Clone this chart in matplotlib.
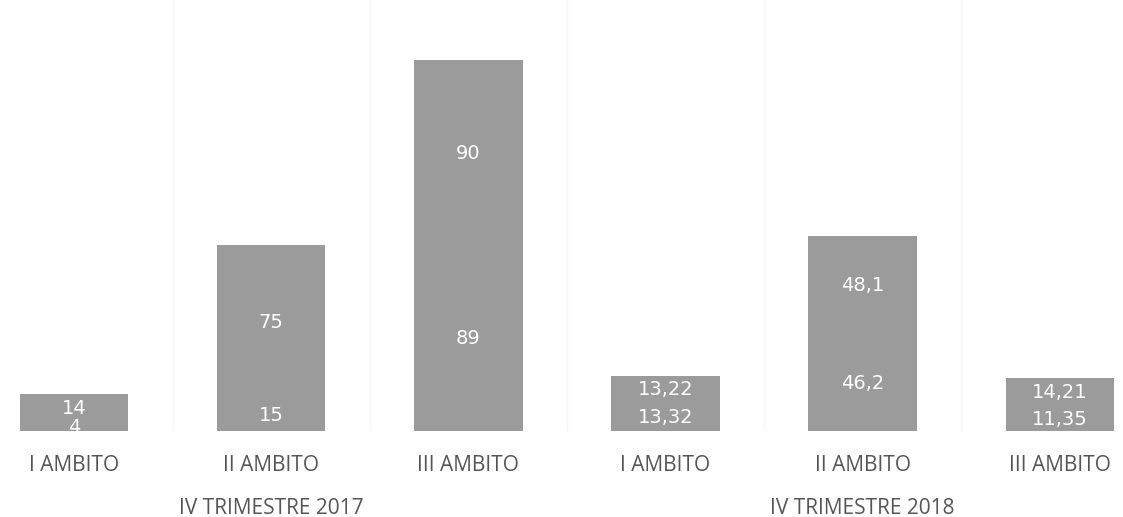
import matplotlib
matplotlib.use("Agg")
import matplotlib.pyplot as plt
import numpy as np

categories = ["I AMBITO", "II AMBITO", "III AMBITO", "I AMBITO", "II AMBITO", "III AMBITO"]
bottom_vals = [4, 15, 89, 13.32, 46.2, 11.35]
top_vals = [14, 75, 90, 13.22, 48.1, 14.21]
bottom_labels = ["4", "15", "89", "13,32", "46,2", "11,35"]
top_labels = ["14", "75", "90", "13,22", "48,1", "14,21"]
groups = ["IV TRIMESTRE 2017", "IV TRIMESTRE 2018"]
group_centers = [1, 4]

fig = plt.figure(figsize=(11.23, 5.17), dpi=100)
ax = fig.add_axes([0, 0.166, 1, 0.834])
x = np.arange(len(categories))
bar_color = "#9b9b9b"
w = 0.55
ax.bar(x, bottom_vals, width=w, color=bar_color)
ax.bar(x, top_vals, width=w, bottom=bottom_vals, color=bar_color)

for xi in np.arange(0.5, len(categories) - 0.5, 1.0):
    ax.axvline(xi, color="#f6f6f6", lw=1, zorder=0)

lab_font = dict(color="white", fontsize=14, ha="center", va="center", family="DejaVu Sans")
for i in range(len(categories)):
    b, t = bottom_vals[i], top_vals[i]
    ax.text(x[i], b / 2, bottom_labels[i], **lab_font)
    ax.text(x[i], b + t / 2, top_labels[i], **lab_font)

ax.set_xlim(-0.375, 5.32)
ax.set_ylim(0, 208)
ax.axis("off")

for i, c in enumerate(categories):
    ax.annotate(c, (x[i], 0), xytext=(0, -34), textcoords="offset pixels",
                ha="center", va="center", fontsize=15, color="#555555",
                family="Open Sans")
for g, gc in zip(groups, group_centers):
    ax.annotate(g, (gc, 0), xytext=(0, -77), textcoords="offset pixels",
                ha="center", va="center", fontsize=15, color="#555555",
                family="Open Sans")

fig.savefig("out.png", dpi=100, facecolor="white")
